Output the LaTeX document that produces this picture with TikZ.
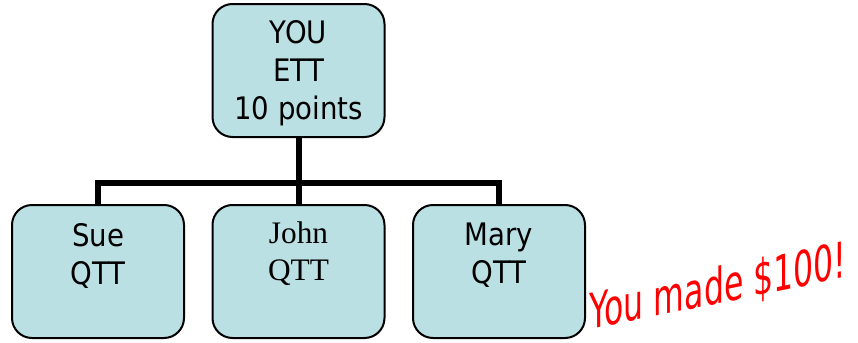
\documentclass[tikz,border=0pt]{standalone}
\usepackage{fontspec}
\newfontfamily\tah[FakeStretch=0.89]{DejaVu Sans}
\newfontfamily\tahred[FakeStretch=0.64]{DejaVu Sans}
\newfontfamily\tms{Liberation Serif}
\definecolor{boxfill}{RGB}{187,224,227}
\definecolor{redtxt}{RGB}{255,0,0}
\begin{document}
\begin{tikzpicture}[x=0.75pt,y=-0.75pt,
  box/.style={draw=black,line width=1.5pt,fill=boxfill,rounded corners=15pt,
    minimum width=129pt,minimum height=99.75pt,inner sep=0pt},
  txt/.style={anchor=north,inner sep=0pt,align=center,font=\tah\fontsize{23.25}{28.5}\selectfont},
  txtser/.style={anchor=north,inner sep=0pt,align=center,font=\tms\fontsize{23.5}{27.75}\selectfont},
  conn/.style={line width=4.5pt,line join=miter,draw=black}]
\useasboundingbox (0,0) rectangle (858,343);
\node[box] (you) at (298.5,70.5) {};
\node[box] (sue) at (98,271.5) {};
\node[box] (john) at (298.5,271.5) {};
\node[box] (mary) at (499,271.5) {};
\coordinate (bar) at (298.5,183);
\draw[conn] (you.south) -- (john.north);
\draw[conn] (sue.north) -- (sue.north |- bar) -- (mary.north |- bar) -- (mary.north);
\node[txt] (yout) at (298.5,20) {YOU\\ETT\\10 points};
\node[txt] (suet) at (98,223) {Sue\\QTT};
\node[txtser] (johnt) at (298.5,221) {John\\QTT};
\node[txt] (maryt) at (499,223) {Mary\\QTT};
\node[anchor=base,inner sep=0pt,yslant=0.204,text=redtxt,font=\tahred\fontsize{37}{40}\selectfont] (made) at (718,303.5) {You made \$100!};
\end{tikzpicture}
\end{document}
